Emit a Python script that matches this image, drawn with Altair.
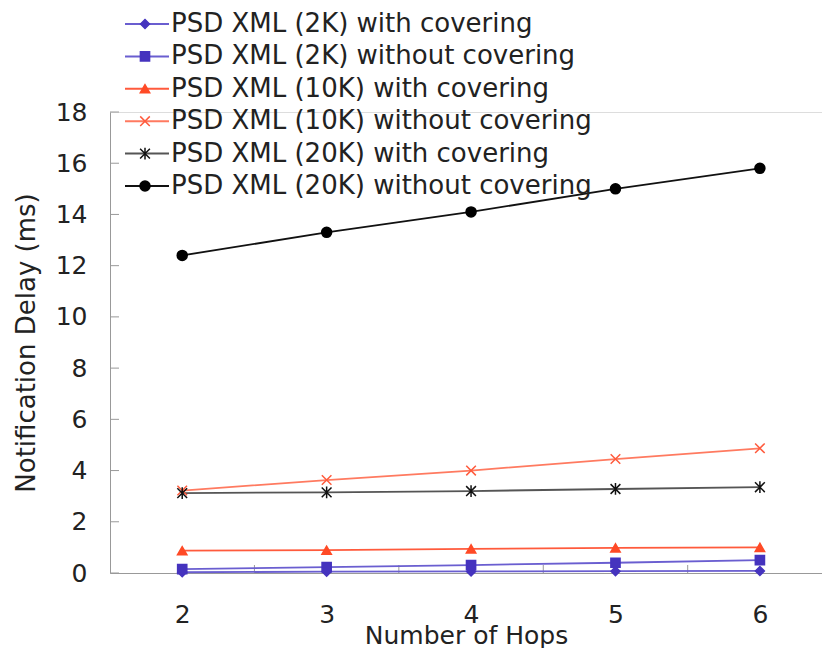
import altair as alt
import pandas as pd

hops = [2, 3, 4, 5, 6]
series_names = [
    "PSD XML (2K) with covering",
    "PSD XML (2K) without covering",
    "PSD XML (10K) with covering",
    "PSD XML (10K) without covering",
    "PSD XML (20K) with covering",
    "PSD XML (20K) without covering",
]
psd2k_with = [0.03, 0.05, 0.06, 0.07, 0.08]
psd2k_without = [0.15, 0.23, 0.31, 0.40, 0.50]
psd10k_with = [0.87, 0.89, 0.94, 0.98, 1.00]
psd10k_without = [3.22, 3.63, 4.00, 4.45, 4.87]
psd20k_with = [3.12, 3.15, 3.20, 3.28, 3.35]
psd20k_without = [12.4, 13.3, 14.1, 15.0, 15.8]
y_ticks = [0, 2, 4, 6, 8, 10, 12, 14, 16, 18]
x_ticks = [2, 3, 4, 5, 6]
x_minor = [2.5, 3.5, 4.5, 5.5]

line_colors = ["#6A5ED0", "#6A5ED0", "#FF5A3C", "#FF7A60", "#555555", "#111111"]
marker_fill = ["#4533BE", "#4533BE", "#FF4A26", "#FF5A3C", "#111111", "#000000"]
marker_shapes = [
    "diamond",
    "square",
    "triangle-up",
    "M-1,-1L1,1M-1,1L1,-1",
    "M-1,-1L1,1M-1,1L1,-1M0,-1.2L0,1.2",
    "circle",
]
marker_sizes = [80, 100, 110, 110, 100, 42]

all_values = [psd2k_with, psd2k_without, psd10k_with, psd10k_without, psd20k_with, psd20k_without]
rows = []
for name, vals in zip(series_names, all_values):
    for h, v in zip(hops, vals):
        rows.append({"hops": h, "delay": v, "s1": name, "s2": name})
df = pd.DataFrame(rows)

FONT = "DejaVu Sans"
W, H = 712, 461
LEG_Y = -101
ROW_PAD = 6.4

x_scale = alt.Scale(domain=[1.5, 6.43], nice=False, zero=False)
y_scale = alt.Scale(domain=[0, 18], nice=False)

base = alt.Chart(df)

lines = base.mark_line(strokeWidth=1.8).encode(
    x=alt.X("hops:Q", scale=x_scale,
            axis=alt.Axis(values=x_ticks, format="d", title="Number of Hops", ticks=False, grid=False,
                          labelPadding=29, titlePadding=-4, domainColor="#999999",
                          labelFontSize=25, titleFontSize=25, labelFont=FONT, titleFont=FONT,
                          labelColor="#222222", titleColor="#222222", titleFontWeight="normal")),
    y=alt.Y("delay:Q", scale=y_scale,
            axis=alt.Axis(values=y_ticks, title="Notification Delay (ms)", ticks=False, grid=False,
                          labelPadding=23, titlePadding=16, domainColor="#999999",
                          labelFontSize=25, titleFontSize=26, labelFont=FONT, titleFont=FONT,
                          labelColor="#222222", titleColor="#222222", titleFontWeight="normal")),
    color=alt.Color("s1:N", sort=series_names, scale=alt.Scale(range=line_colors),
                    legend=alt.Legend(title=None, orient="none", legendX=24, legendY=LEG_Y,
                                      symbolType="M-2.2,0L2.2,0", symbolSize=400, symbolStrokeWidth=2,
                                      labelFontSize=26, labelFont=FONT, labelColor="#222222",
                                      labelOffset=11, rowPadding=ROW_PAD, padding=0, labelLimit=600)),
    detail="s1:N",
)

pt_legend = alt.Legend(title=None, orient="none", legendX=22, legendY=LEG_Y,
                       symbolStrokeWidth=1.5,
                       labelFontSize=26, labelFont=FONT, labelExpr="''",
                       labelOffset=7, rowPadding=ROW_PAD, padding=0, labelLimit=600)

pt_domain = series_names
points = base.mark_point(filled=True, strokeWidth=1.5, opacity=1).encode(
    x=alt.X("hops:Q", scale=x_scale),
    y=alt.Y("delay:Q", scale=y_scale),
    fill=alt.Fill("s2:N", scale=alt.Scale(domain=pt_domain, range=marker_fill), legend=pt_legend),
    stroke=alt.Stroke("s2:N", scale=alt.Scale(domain=pt_domain, range=marker_fill), legend=pt_legend),
    shape=alt.Shape("s2:N", scale=alt.Scale(domain=pt_domain, range=marker_shapes), legend=pt_legend),
    size=alt.Size("s2:N", scale=alt.Scale(domain=pt_domain, range=marker_sizes), legend=pt_legend),
)

ytick_df = pd.DataFrame({"v": y_ticks})
yticks = alt.Chart(ytick_df).mark_rule(color="#999999", strokeWidth=1).encode(
    y=alt.Y("v:Q", scale=y_scale),
    x=alt.value(0),
    x2=alt.value(9),
)

xtick_df = pd.DataFrame({"v": x_minor})
xticks = alt.Chart(xtick_df).mark_rule(color="#999999", strokeWidth=1).encode(
    x=alt.X("v:Q", scale=x_scale),
    y=alt.value(H),
    y2=alt.value(H - 8),
)

chart = alt.layer(yticks, xticks, lines, points).properties(
    width=W, height=H,
    autosize="none",
    padding={"left": 102, "top": 104, "right": 0, "bottom": 75},
).configure_view(stroke=None).configure(background="white")

chart.save("out.html", embed_options={"renderer": "svg", "actions": False})
